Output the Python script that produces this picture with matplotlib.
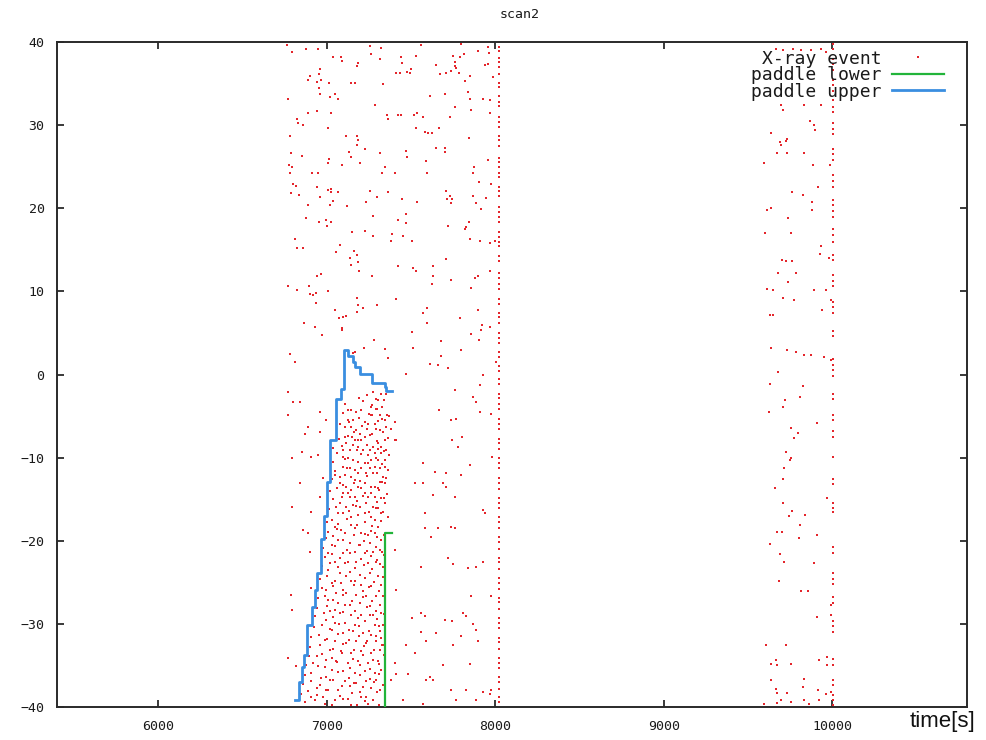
import numpy as np
import matplotlib
matplotlib.use("Agg")
import matplotlib.pyplot as plt

# === DATA ===
# X-ray events, upper half of the 6700-8000 band
upper_events = [
    (6762, 39.6), (6797, 38.8), (6880, 39.2), (6949, 39.1), (7256, 39.5), (7261, 38.5), (7325, 39.3),
    (7562, 39.6), (7799, 39.8), (7897, 38.9), (7957, 39.4), (7963, 38.7), (7038, 38.2), (7088, 38.2),
    (7090, 37.7), (7186, 37.5), (7183, 37.1), (7315, 38.0), (7443, 38.2), (7449, 37.5), (7532, 38.3),
    (7651, 37.2), (7749, 38.3), (7759, 37.6), (7793, 38.2), (7818, 38.5), (7937, 37.2), (7957, 37.4),
    (7762, 37.1), (6959, 36.8), (6955, 36.2), (6900, 35.9), (6890, 35.4), (6940, 35.2), (6969, 35.4),
    (7015, 35.1), (7147, 35.1), (7167, 35.1), (7414, 36.3), (7433, 36.3), (7479, 36.4), (7502, 36.8),
    (7493, 36.3), (7670, 36.2), (7710, 36.3), (7739, 36.5), (7769, 36.9), (7785, 36.3), (7848, 35.9),
    (7824, 35.3), (7990, 35.8), (7334, 34.9), (6955, 34.5), (6959, 33.8), (7048, 33.8), (7068, 33.1),
    (7019, 33.4), (6772, 33.1), (7285, 32.4), (7611, 33.5), (7700, 33.7), (7838, 34.0), (7848, 33.1),
    (7927, 33.2), (7972, 33.0), (6890, 31.5), (6940, 31.7), (7028, 31.5), (6825, 30.7), (6831, 30.2),
    (6860, 30.0), (7358, 31.2), (7364, 30.7), (7423, 31.2), (7439, 31.2), (7516, 31.2), (7538, 31.4),
    (7572, 31.0), (7730, 31.0), (7759, 32.2), (7858, 31.8), (7967, 31.4), (7009, 29.7), (7532, 29.7),
    (7581, 29.2), (7601, 29.0), (7627, 29.1), (7666, 29.7), (6782, 28.7), (7117, 28.7), (7180, 28.7),
    (7186, 28.2), (7180, 27.6), (7226, 27.1), (7315, 26.7), (7473, 26.9), (7647, 27.2), (7700, 27.2),
    (7702, 26.8), (7844, 28.4), (6791, 26.7), (6855, 26.3), (7147, 26.2), (7133, 26.8), (7477, 26.2),
    (7015, 25.9), (7009, 25.4), (6778, 25.2), (6797, 25.0), (6782, 24.2), (6916, 24.2), (6949, 24.2),
    (7094, 25.2), (7196, 25.4), (7344, 25.0), (7331, 24.2), (7406, 24.2), (7591, 25.7), (7595, 24.2),
    (7872, 25.0), (7868, 24.2), (7957, 25.8), (6801, 22.9), (6817, 22.7), (6940, 22.5), (7009, 22.2),
    (7024, 22.0), (7028, 22.3), (7068, 21.9), (6787, 21.8), (6837, 21.6), (6963, 21.3), (7022, 20.4),
    (7038, 20.9), (7121, 20.3), (7256, 22.1), (7364, 21.9), (7236, 20.7), (7299, 21.3), (7449, 21.1),
    (7538, 20.7), (7710, 22.1), (7730, 21.5), (7712, 21.1), (7745, 21.1), (7739, 20.6), (7868, 21.5),
    (7888, 20.6), (7917, 19.9), (7943, 21.2), (7907, 23.2), (7976, 22.9), (6890, 20.4), (6880, 18.8),
    (6955, 18.4), (6995, 18.6), (7028, 18.4), (7003, 17.9), (7275, 19.1), (7423, 18.6), (7473, 19.3),
    (7469, 18.2), (7720, 17.9), (7828, 17.8), (7824, 17.5), (7844, 18.4), (7153, 17.2), (7226, 17.3),
    (7275, 16.7), (7390, 16.9), (7384, 16.1), (7453, 16.7), (7508, 16.1), (7848, 16.3), (7913, 16.1),
    (7972, 15.8), (8002, 16.1), (6811, 16.3), (6825, 15.2), (6857, 15.2), (7078, 15.6), (7058, 14.7),
    (7161, 14.8), (7180, 14.4), (7137, 14.0), (7147, 13.2), (7186, 13.5), (7710, 13.9), (7631, 13.1),
    (7532, 12.5), (7512, 12.8), (7423, 13.0), (6940, 11.9), (6969, 12.1), (7192, 12.5), (7271, 11.9),
    (7739, 11.4), (7631, 11.9), (7627, 10.9), (7897, 11.9), (7878, 11.6), (7967, 12.4), (7854, 10.4),
    (6772, 10.7), (6827, 10.2), (6896, 10.7), (6900, 9.7), (6920, 9.6), (6936, 9.8), (7009, 10.0),
    (6936, 8.6), (7180, 9.2), (7186, 8.4), (7216, 8.0), (7180, 7.5), (7299, 8.4), (7414, 9.1),
    (7572, 7.4), (7595, 6.2), (7597, 8.0), (7074, 6.8), (7098, 6.9), (7117, 7.0), (7094, 5.6),
    (7094, 5.3), (6864, 6.2), (6930, 5.7), (6973, 4.7), (7048, 7.8), (7508, 5.1), (7789, 6.8),
    (7897, 7.7), (7923, 6.0), (7917, 5.3), (7858, 4.9), (7907, 4.1), (7967, 5.7), (6781, 2.5),
    (6811, 1.5), (7281, 4.2), (7220, 3.2), (7344, 3.1), (7364, 2.0), (7512, 3.2), (7680, 4.0),
    (7680, 2.2), (7611, 1.3), (7660, 1.1), (7720, 0.8), (7799, 3.0), (8006, 1.5), (7157, 2.6),
]

# lower half of the band, right of the dense cluster
lower_events = [
    (7927, -0.1), (7473, 0.1), (7759, -1.9), (7911, -1.3), (7868, -2.7), (7888, -3.3), (7666, -4.3),
    (7739, -5.5), (7769, -5.3), (7911, -4.5), (7976, -4.7), (7414, -7.9), (7745, -7.9), (7805, -7.5),
    (7779, -8.7), (7982, -9.9), (7572, -10.7), (7848, -10.9), (7799, -12.1), (7710, -11.9), (7641, -11.7),
    (7522, -13.1), (7572, -13.1), (7690, -13.1), (7710, -13.5), (7631, -14.5), (7759, -14.7), (7927, -16.3),
    (7581, -16.7), (7937, -16.7), (7739, -18.3), (7660, -18.5), (7759, -18.5), (7581, -18.5), (7621, -19.5),
    (7720, -22.1), (7749, -22.8), (7562, -23.1), (7838, -23.3), (7888, -23.1), (7927, -22.5), (7858, -26.7),
    (7976, -26.7), (7562, -28.7), (7581, -29.0), (7508, -29.3), (7808, -28.7), (7828, -29.1), (7700, -29.5),
    (7745, -29.7), (7868, -30.0), (7888, -30.7), (7562, -31.0), (7651, -31.1), (7591, -32.0), (7799, -31.5),
    (7897, -32.0), (7749, -32.5), (7473, -32.5), (7522, -33.5), (7848, -34.8), (7690, -35.0), (7631, -36.8),
    (7591, -36.8), (7611, -36.4), (7414, -36.0), (7483, -36.0), (7739, -38.0), (7828, -38.0), (7927, -38.2),
    (7976, -38.0), (7967, -38.4), (7453, -39.2), (7769, -39.2), (7888, -39.2), (7572, -39.6),
    (7404, -21.1), (7414, -25.9), (7404, -34.7), (7384, -36.7),
]

# left of the paddle upper edge
left_events = [
    (6772, -2.1), (6801, -3.3), (6841, -3.3), (6772, -4.9), (6959, -4.5), (6999, -5.5), (6890, -6.3),
    (6870, -7.1), (6959, -6.9), (6792, -10.1), (6851, -9.3), (6910, -9.9), (6950, -9.7), (6841, -13.1),
    (7048, -12.1), (6979, -12.5), (6792, -15.9), (6910, -16.5), (6959, -14.7), (6788, -26.5), (6795, -28.3),
    (6772, -34.1), (6900, -21.3), (6906, -25.7), (6821, -35.1), (6861, -18.7), (6890, -19.1),
]

# dense cluster between the paddle edges
dense_events = [
    (7167, 2.7), (7275, -2.1), (7325, -2.3), (7305, -3.1), (7266, -3.9), (7295, -4.1), (7328, -3.9),
    (7272, -4.9), (7315, -4.9), (7345, -5.5), (7285, -5.9), (7177, -4.5), (7206, -4.3), (7127, -4.3),
    (7124, -5.5), (7157, -5.5), (7226, -5.7), (7246, -5.9), (7404, -5.7), (7384, -6.5), (7295, -6.5),
    (7315, -6.7), (7335, -6.9), (7108, -6.3), (7147, -6.3), (7177, -6.7), (7196, -7.1), (7226, -7.5),
    (7150, -7.5), (7167, -7.9), (7206, -7.9), (7108, -7.5), (7117, -8.3), (7157, -8.5), (7187, -8.7),
    (7098, -9.1), (7137, -9.1), (7345, -7.9), (7404, -7.9), (7305, -8.3), (7275, -8.7), (7325, -8.7),
    (7354, -9.1), (7256, -9.1), (7285, -9.5), (7322, -9.5), (7246, -9.7), (7098, -9.9), (7127, -10.1),
    (7157, -10.3), (7187, -10.5), (7226, -10.7), (7266, -10.3), (7305, -10.3), (7345, -10.3), (7285, -11.1),
    (7315, -11.3), (7345, -11.1), (7098, -11.1), (7137, -11.3), (7167, -11.5), (7206, -11.3), (7236, -11.9),
    (7275, -11.9), (7335, -12.3), (7108, -12.1), (7147, -12.3), (7167, -12.7), (7078, -13.1), (7117, -13.5),
    (7147, -13.9), (7187, -13.5), (7226, -13.1), (7266, -13.5), (7305, -13.7), (7345, -13.1), (7098, -14.3),
    (7137, -14.7), (7167, -14.7), (7226, -14.3), (7246, -14.7), (7285, -14.7), (7325, -14.9), (7078, -15.5),
    (7117, -15.9), (7157, -15.7), (7196, -15.9), (7236, -15.5), (7275, -15.9), (7305, -16.1), (7345, -15.5),
    (7068, -16.7), (7098, -16.7), (7147, -17.1), (7187, -16.9), (7226, -16.7), (7266, -17.1), (7285, -17.5),
    (7325, -16.7), (7364, -17.1),
    (7048, -18.3), (7088, -18.7), (7147, -18.1), (7206, -19.1), (7246, -19.3), (7285, -19.1), (7305, -18.3),
    (7325, -19.9), (7256, -20.3), (7196, -20.5), (7137, -20.3), (7068, -19.9), (7029, -20.5), (7009, -21.5),
    (7098, -21.5), (7167, -21.3), (7226, -21.5), (7275, -21.3), (7315, -21.1), (7048, -22.5), (7108, -22.7),
    (7177, -22.5), (7246, -22.7), (7295, -22.5), (7335, -23.1), (7009, -23.5), (7078, -23.9), (7137, -23.7),
    (7196, -24.1), (7256, -23.9), (7305, -24.3), (7029, -25.1), (7088, -25.1), (7147, -24.9), (7206, -25.3),
    (7266, -25.5), (7325, -25.3), (6999, -25.9), (7058, -26.3), (7117, -26.3), (7177, -26.5), (7236, -26.7),
    (7295, -26.7), (7009, -27.1), (7068, -27.5), (7137, -27.7), (7196, -27.5), (7256, -27.9), (7315, -27.7),
    (7019, -28.5), (7078, -28.7), (7147, -28.9), (7206, -28.9), (7275, -28.9), (7325, -28.7), (6999, -29.5),
    (7048, -29.9), (7108, -29.9), (7167, -30.1), (7226, -29.7), (7285, -30.1), (7335, -30.1), (7029, -30.7),
    (7098, -31.1), (7157, -30.9), (7216, -31.1), (7266, -31.3), (7315, -30.9), (6989, -31.9), (7048, -32.1),
    (7117, -32.3), (7177, -32.1), (7236, -32.3), (7295, -32.1), (7335, -32.5), (7019, -33.1), (7088, -33.3),
    (7147, -33.5), (7206, -33.3), (7266, -33.5), (7315, -33.1), (6940, -33.9), (6999, -34.3), (7058, -34.5),
    (7127, -34.7), (7187, -34.5), (7246, -34.7), (7305, -34.5), (6950, -35.1), (7029, -35.5), (7098, -35.7),
    (7167, -35.9), (7226, -35.7), (7285, -35.9), (7325, -35.5), (6969, -36.5), (7038, -36.7), (7108, -36.9),
    (7177, -37.1), (7236, -36.9), (7295, -36.7), (6940, -37.7), (6999, -37.9), (7068, -37.9), (7137, -37.5),
    (7196, -38.2), (7266, -37.7), (7315, -37.9), (6910, -38.8), (6979, -38.8), (7048, -39.2), (7127, -39.0),
    (7206, -38.8), (7275, -39.2), (7029, -39.8), (7147, -39.8), (7246, -39.6),
]

# further events of the dense cluster (second reading pass)
dense_extra = [
    (7190, -2.8), (7238, -2.5), (7290, -3.0), (7352, -2.4), (7110, -3.5), (7215, -3.2), (7270, -3.7),
    (7340, -3.1), (7096, -4.6), (7145, -4.3), (7250, -4.8), (7300, -4.2), (7360, -4.9), (7195, -5.2),
    (7262, -4.9), (7330, -5.4), (7372, -5.0), (7080, -6.0), (7133, -5.7), (7212, -6.2), (7305, -5.6),
    (7355, -6.3), (7163, -6.9), (7240, -6.6), (7268, -7.1), (7380, -6.5), (7072, -7.7), (7128, -7.4),
    (7188, -7.9), (7257, -7.3), (7298, -8.0), (7362, -7.6), (7040, -8.9), (7090, -8.6), (7215, -9.1),
    (7240, -8.5), (7342, -9.2), (7060, -9.4), (7178, -9.1), (7205, -9.6), (7305, -9.0), (7372, -9.7),
    (7036, -10.5), (7110, -10.2), (7247, -10.7), (7292, -10.1), (7328, -10.8), (7050, -11.6), (7120, -11.3),
    (7188, -11.8), (7256, -11.2), (7300, -11.9), (7365, -11.5), (7030, -12.6), (7082, -12.3), (7200, -12.8),
    (7240, -12.2), (7318, -12.9), (7350, -12.5), (7100, -13.3), (7160, -13.0), (7285, -13.5), (7330, -12.9),
    (7020, -14.0), (7062, -13.7), (7128, -14.2), (7205, -13.6), (7265, -14.3), (7310, -13.9), (7358, -14.4),
    (7040, -15.0), (7092, -14.7), (7180, -15.2), (7215, -14.6), (7300, -15.3), (7338, -14.9), (7012, -16.2),
    (7055, -15.9), (7135, -16.4), (7174, -15.8), (7252, -16.5), (7292, -16.1), (7332, -16.6), (7000, -17.8),
    (7030, -17.5), (7070, -18.0), (7118, -17.4), (7178, -18.1), (7230, -17.7), (7268, -18.2), (7320, -17.6),
    (7010, -18.9), (7064, -18.6), (7110, -19.1), (7170, -18.5), (7226, -19.2), (7265, -18.8), (7338, -19.3),
    (6995, -19.7), (7040, -19.4), (7100, -19.9), (7160, -19.3), (7220, -20.0), (7298, -19.6), (6980, -20.9),
    (7052, -20.6), (7118, -21.1), (7190, -20.5), (7240, -21.2), (7290, -20.8), (7330, -21.3), (6990, -21.9),
    (7030, -21.6), (7080, -22.1), (7140, -21.5), (7205, -22.2), (7262, -21.8), (7300, -22.3), (7338, -21.7),
    (6975, -23.0), (7020, -22.7), (7070, -23.2), (7128, -22.6), (7168, -23.3), (7220, -22.9), (7270, -23.4),
    (7315, -22.8), (6960, -24.6), (7005, -24.3), (7050, -24.8), (7115, -24.2), (7170, -24.9), (7230, -24.5),
    (7280, -25.0), (7335, -24.4), (6972, -25.7), (7035, -25.4), (7100, -25.9), (7160, -25.3), (7218, -26.0),
    (7250, -25.6), (7310, -26.1), (6950, -26.9), (6990, -26.6), (7040, -27.1), (7095, -26.5), (7150, -27.2),
    (7215, -26.8), (7270, -27.3), (7332, -26.7), (6945, -28.1), (7000, -27.8), (7050, -28.3), (7110, -27.7),
    (7170, -28.4), (7240, -28.0), (7290, -28.5), (6930, -29.0), (6985, -28.7), (7040, -29.2), (7100, -28.6),
    (7185, -29.3), (7255, -28.9), (7300, -29.4), (7340, -28.8), (6925, -30.4), (6970, -30.1), (7020, -30.6),
    (7075, -30.0), (7130, -30.7), (7195, -30.3), (7250, -30.8), (7310, -30.2), (6910, -31.6), (6955, -31.3),
    (7005, -31.8), (7070, -31.2), (7130, -31.9), (7190, -31.5), (7240, -32.0), (7290, -31.4), (7325, -31.7),
    (6900, -32.8), (6960, -32.5), (7040, -33.0), (7100, -32.4), (7160, -33.1), (7220, -32.7), (7280, -33.2),
    (7330, -32.6), (6895, -33.9), (6970, -33.6), (7030, -34.1), (7090, -33.5), (7155, -34.2), (7215, -33.8),
    (7275, -34.3), (7340, -33.7), (6880, -35.0), (6920, -34.7), (6990, -35.2), (7060, -34.6), (7140, -35.3),
    (7200, -34.9), (7260, -35.4), (7310, -34.8), (6870, -36.2), (6910, -35.9), (6995, -36.4), (7070, -35.8),
    (7135, -36.5), (7200, -36.1), (7255, -36.6), (7310, -36.0), (6860, -37.2), (6905, -36.9), (6960, -37.4),
    (7020, -36.8), (7090, -37.5), (7160, -37.1), (7215, -37.6), (7280, -37.0), (7335, -37.3), (6850, -38.4),
    (6890, -38.1), (6940, -38.6), (7010, -38.0), (7080, -38.7), (7150, -38.3), (7235, -38.8), (7300, -38.2),
    (6870, -39.4), (6930, -39.1), (6990, -39.6), (7095, -39.0), (7180, -39.7), (7225, -39.3), (7310, -39.8),
]

# second band, 9600-10000
far_events = [
    (9665, 39.2), (9710, 39.0), (9769, 39.2), (9813, 39.0), (9876, 39.0), (9931, 39.2), (9961, 38.8),
    (9698, 32.4), (9710, 31.8), (9833, 32.4), (9935, 32.4), (9868, 30.5), (9892, 30.0), (9896, 29.4),
    (9635, 29.1), (9690, 28.0), (9724, 28.1), (9734, 28.3), (9698, 27.6), (9675, 26.6), (9730, 26.6),
    (9833, 26.7), (9596, 25.4), (9888, 25.2), (9987, 25.2), (9915, 22.6), (9763, 22.0), (9829, 21.6),
    (9882, 20.8), (9878, 19.8), (9615, 19.8), (9635, 20.0), (9738, 18.8), (9599, 17.0), (9757, 17.0),
    (9935, 15.4), (9927, 14.5), (9704, 13.8), (9724, 13.7), (9763, 13.6), (9981, 14.0), (9678, 12.2),
    (9783, 12.2), (9740, 11.1), (9611, 10.3), (9651, 10.2), (9892, 10.2), (9961, 10.2), (9710, 9.2),
    (9773, 9.0), (9995, 9.0), (9939, 7.8), (9631, 7.2), (9651, 7.2), (9635, 3.2), (9730, 3.0),
    (9783, 2.7), (9833, 2.3), (9872, 2.3), (9951, 2.1), (9995, 1.7), (9680, 0.3),
    (9631, -1.1), (9829, -1.4), (9809, -2.7), (9718, -3.1), (9625, -4.5), (9710, -3.9), (9908, -5.8),
    (9754, -6.4), (9797, -7.0), (9773, -7.6), (9724, -9.3), (9757, -10.1), (9750, -10.3), (9714, -11.3),
    (9710, -12.6), (9659, -13.6), (9967, -14.9), (9710, -15.4), (9763, -16.4), (9744, -17.0), (9836, -16.9),
    (9809, -18.1), (9671, -19.0), (9704, -18.9), (9803, -19.7), (9908, -19.3), (9631, -20.4), (9690, -21.6),
    (9714, -22.6), (9892, -22.7), (9684, -24.8), (9817, -26.1), (9856, -26.1), (9995, -28.9), (9912, -29.2),
    (9995, -27.7), (9605, -32.5), (9724, -32.5), (9639, -34.8), (9665, -34.4), (9675, -34.9), (9754, -34.8),
    (9921, -34.3), (9971, -34.0), (9971, -35.0), (9639, -36.8), (9833, -36.6), (9665, -37.8), (9671, -38.3),
    (9829, -37.6), (9730, -38.3), (9694, -39.2), (9754, -39.4), (9833, -39.2), (9915, -37.9), (9961, -38.4),
    (9995, -38.2), (9596, -39.6), (9675, -39.5), (9862, -39.6), (9921, -39.2),
]

# dotted columns of events at ~8025 s and ~10003 s
column_8k_t = 8025
column_8k_y = [
    40.0, 39.4, 38.9, 38.1, 37.6, 37.0, 36.2, 35.1, 34.6, 33.5, 32.8, 32.3, 31.0, 30.4, 29.8, 28.7,
    28.2, 27.5, 26.1, 25.6, 25.0, 24.3, 23.8, 22.6, 22.1, 21.5, 20.2, 19.6, 19.0, 18.4, 17.1, 16.5,
    16.0, 15.4, 14.3, 13.7, 12.2, 11.6, 10.9, 10.3, 9.1, 8.5, 7.4, 6.9, 6.2, 5.0, 4.4, 3.8, 2.7, 2.1,
    1.0, 0.4, -0.5, -1.1, -2.3, -2.8, -3.6, -4.2, -5.4, -6.0, -6.6, -7.7, -8.3, -9.0, -10.1, -10.7,
    -11.3, -12.5, -13.0, -13.8, -14.9, -15.5, -16.1, -17.2, -17.8, -18.5, -19.6, -20.2, -21.0, -22.1,
    -22.6, -23.4, -24.5, -25.1, -25.8, -26.9, -27.4, -28.2, -29.3, -29.9, -30.5, -31.7, -32.2, -33.0,
    -34.1, -34.7, -35.3, -36.4, -37.0, -37.8, -38.8, -39.4,
]
column_10k_t = 10003
column_10k_y = [
    39.7, 39.1, 37.9, 37.3, 36.6, 35.4, 34.8, 34.1, 33.0, 32.2, 31.6, 30.3, 29.5, 28.9, 27.1, 26.5,
    25.8, 24.0, 23.3, 22.6, 21.0, 20.4, 19.7, 19.0, 17.5, 16.8, 15.9, 14.4, 13.8, 12.0, 11.3, 10.6,
    8.7, 8.1, 7.4, 5.2, 4.6, 1.9, 1.2, 0.5, -0.2, -2.4, -3.0, -4.9, -5.5, -6.8, -7.5, -9.9, -12.6,
    -13.2, -15.4, -16.0, -16.6, -20.8, -21.5, -23.9, -24.6, -25.2, -26.8, -27.5, -29.6, -30.3, -31.0,
    -34.2, -34.9, -36.8, -37.4, -38.5, -39.1, -39.7,
]

# paddle edges (step curves)
upper_t = [6811, 6835, 6855, 6868, 6886, 6914, 6930, 6944, 6965, 6985, 7000, 7019, 7058, 7085,
           7104, 7127, 7157, 7171, 7196, 7269, 7345, 7354, 7388]
upper_y = [-39.2, -37.0, -35.2, -33.8, -30.1, -28.0, -25.9, -23.9, -19.8, -17.0, -12.9, -7.9, -3.0,
           -1.8, 2.9, 2.2, 1.5, 0.9, 0.1, -1.0, -1.5, -2.0, -2.0]
lower_t = [7345, 7345, 7388]
lower_y = [-41.0, -19.1, -19.1]

x_ticks = [6000, 7000, 8000, 9000, 10000]
y_ticks = [-40, -30, -20, -10, 0, 10, 20, 30, 40]

# === FIGURE ===
W, H = 986, 740
fig = plt.figure(figsize=(W / 100, H / 100), dpi=100)
ax = fig.add_axes([57 / W, 1 - 707 / H, (967 - 57) / W, (707 - 42) / H])

events = np.array(upper_events + lower_events + left_events + dense_events + dense_extra + far_events)
ev_t = np.concatenate([events[:, 0],
                       np.full(len(column_8k_y), column_8k_t),
                       np.full(len(column_10k_y), column_10k_t)])
ev_y = np.concatenate([events[:, 1], column_8k_y, column_10k_y])

red = "#e4262c"
ax.plot(ev_t, ev_y, ls="none", marker="s", ms=1.9, mew=0, color=red, label="X-ray event", zorder=2)
ax.step(lower_t, lower_y, where="post", color="#22b43a", lw=1.6, label="paddle lower", zorder=3)
ax.step(upper_t, upper_y, where="post", color="#3a8ee0", lw=2.0, label="paddle upper", zorder=3)

ax.set_xlim(5400, 10800)
ax.set_ylim(-40, 40)
ax.set_xticks(x_ticks)
ax.set_yticks(y_ticks)

mono = "DejaVu Sans Mono"
for s in ax.spines.values():
    s.set_linewidth(1.4)
    s.set_color("#2a2a2a")
ax.tick_params(direction="in", top=True, right=True, length=5, width=1.3, color="#2a2a2a",
               labelsize=9.5, labelcolor="#1a1a1a", pad=9)
for lab in ax.get_xticklabels() + ax.get_yticklabels():
    lab.set_family(mono)

ax.set_title("scan2", fontsize=9.5, family=mono, pad=17, color="#1a1a1a", x=(520 - 57) / 910)
fig.text(910 / W, 1 - 721 / H, "time[s]", fontsize=16, family="Liberation Sans",
         ha="left", va="center", color="#111111")

leg = ax.legend(loc="upper right", bbox_to_anchor=(1 - 10 / 910, 1 + 5 / 665), frameon=False,
                markerfirst=False, numpoints=1, prop={"family": mono, "size": 13},
                handlelength=2.9, handletextpad=0.6, labelspacing=-0.08,
                borderaxespad=0.4, borderpad=0.3)
for txt in leg.get_texts():
    txt.set_color("#1a1a1a")

fig.savefig("out.png", dpi=100)
